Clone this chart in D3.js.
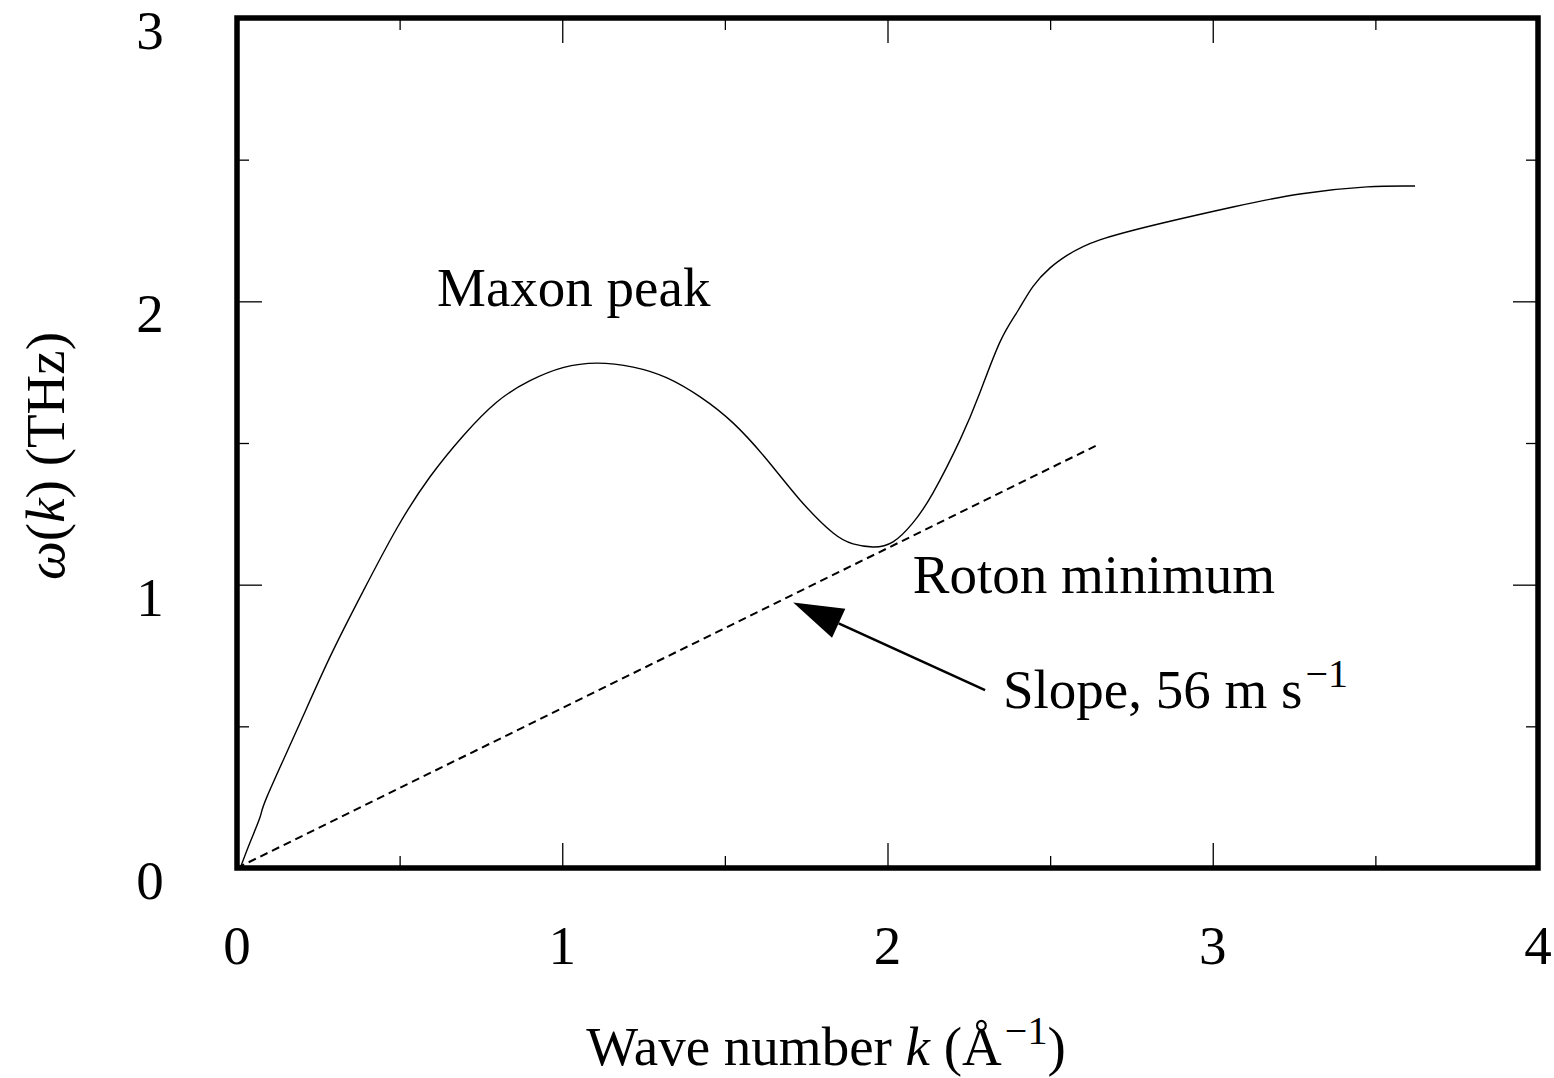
<!DOCTYPE html>
<html>
<head>
<meta charset="utf-8">
<script src="https://cdn.jsdelivr.net/npm/d3@7"></script>
<style>
  body { margin: 0; background: #fff; }
  text { font-family: "Liberation Serif", "Times New Roman", serif; fill: #000; }
</style>
</head>
<body>
<div id="chart"></div>
<script>
// Dispersion curve of superfluid helium
const kValues = [0.01, 0.04, 0.071, 0.092, 0.184, 0.286, 0.387, 0.492, 0.593, 0.695, 0.799, 0.901,
  1.002, 1.107, 1.218, 1.322, 1.424, 1.525, 1.630, 1.731, 1.832, 1.894, 1.955, 2.017, 2.078,
  2.140, 2.223, 2.284, 2.346, 2.400, 2.447, 2.500, 2.552, 2.653, 2.859, 3.062, 3.268, 3.474, 3.622];
const omegaValues = [0, 0.09, 0.18, 0.251, 0.487, 0.745, 0.975, 1.200, 1.380, 1.525, 1.645, 1.720,
  1.766, 1.782, 1.768, 1.730, 1.663, 1.571, 1.440, 1.299, 1.183, 1.144, 1.133, 1.151, 1.218,
  1.324, 1.511, 1.677, 1.857, 1.965, 2.052, 2.118, 2.162, 2.217, 2.280, 2.333, 2.379, 2.404, 2.407];

// dashed tangent line (slope 56 m/s)
const slopeK = [0, 2.64];
const slopeOmega = [0, 1.49];

const xTicks = [0, 1, 2, 3, 4];
const yTicks = [0, 1, 2, 3];
const xMinor = [0.5, 1.5, 2.5, 3.5];
const yMinor = [0.5, 1.5, 2.5];

const width = 1554;
const height = 1078;
const margin = {left: 237, right: 16, top: 18, bottom: 210};
const fontSize = 55;
const supSize = 40;

const svg = d3.select("#chart")
  .append("svg")
  .attr("width", width)
  .attr("height", height);

const x = d3.scaleLinear().domain([0, 4]).range([margin.left, width - margin.right]);
const y = d3.scaleLinear().domain([0, 3]).range([height - margin.bottom, margin.top]);

// ticks pointing inward on all four sides
function tickSet(values, len) {
  svg.append("g").call(d3.axisBottom(x).tickValues(values).tickSize(len).tickFormat(""))
    .attr("transform", `translate(0,${margin.top})`);
  svg.append("g").call(d3.axisTop(x).tickValues(values).tickSize(len).tickFormat(""))
    .attr("transform", `translate(0,${height - margin.bottom})`);
}
function tickSetY(values, len) {
  svg.append("g").call(d3.axisRight(y).tickValues(values).tickSize(len).tickFormat(""))
    .attr("transform", `translate(${margin.left},0)`);
  svg.append("g").call(d3.axisLeft(y).tickValues(values).tickSize(len).tickFormat(""))
    .attr("transform", `translate(${width - margin.right},0)`);
}
tickSet(xTicks, 25);
tickSet(xMinor, 12);
tickSetY(yTicks, 25);
tickSetY(yMinor, 12);
svg.selectAll(".domain").remove();
svg.selectAll(".tick line").attr("stroke", "#000").attr("stroke-width", 1.3);

// tick labels
svg.append("g").selectAll("text")
  .data(xTicks).enter().append("text")
  .attr("x", d => x(d))
  .attr("y", y(0) + 96)
  .attr("text-anchor", "middle")
  .attr("font-size", fontSize)
  .text(d => d);

svg.append("g").selectAll("text")
  .data(yTicks).enter().append("text")
  .attr("x", 150)
  .attr("y", d => y(d) + 31)
  .attr("text-anchor", "middle")
  .attr("font-size", fontSize)
  .text(d => d);

// dashed line
const line = d3.line().x(d => x(d[0])).y(d => y(d[1]));
svg.append("path")
  .attr("d", line(d3.zip(slopeK, slopeOmega)))
  .attr("fill", "none")
  .attr("stroke", "#000")
  .attr("stroke-width", 2)
  .attr("stroke-dasharray", "8,5");

// dispersion curve
const curve = d3.line().x(d => x(d[0])).y(d => y(d[1])).curve(d3.curveNatural);
svg.append("path")
  .attr("d", curve(d3.zip(kValues, omegaValues)))
  .attr("fill", "none")
  .attr("stroke", "#000")
  .attr("stroke-width", 1.4);

// frame
svg.append("rect")
  .attr("x", x(0)).attr("y", y(3))
  .attr("width", x(4) - x(0)).attr("height", y(0) - y(3))
  .attr("fill", "none")
  .attr("stroke", "#000")
  .attr("stroke-width", 5.5);

// arrow pointing at the dashed line
const arrowTail = [2.300, 0.628];
const arrowTip = [1.71, 0.937];
const tx = x(arrowTip[0]), ty = y(arrowTip[1]);
const ang = Math.atan2(y(arrowTail[1]) - ty, x(arrowTail[0]) - tx);
const headLen = 50, headHalf = 16;
const bx = tx + headLen * Math.cos(ang), by = ty + headLen * Math.sin(ang);
svg.append("line")
  .attr("x1", x(arrowTail[0])).attr("y1", y(arrowTail[1]))
  .attr("x2", bx).attr("y2", by)
  .attr("stroke", "#000").attr("stroke-width", 2.5);
svg.append("path")
  .attr("d", `M${tx},${ty} L${bx - headHalf * Math.sin(ang)},${by + headHalf * Math.cos(ang)} L${bx + headHalf * Math.sin(ang)},${by - headHalf * Math.cos(ang)} Z`)
  .attr("fill", "#000");

// annotations
svg.append("text")
  .attr("x", x(0.615)).attr("y", y(1.984))
  .attr("font-size", fontSize)
  .text("Maxon peak");

svg.append("text")
  .attr("x", x(2.078)).attr("y", y(0.971))
  .attr("font-size", fontSize)
  .text("Roton minimum");

const slopeText = svg.append("text")
  .attr("x", x(2.355)).attr("y", y(0.565))
  .attr("font-size", fontSize);
slopeText.append("tspan").text("Slope, 56 m s");
slopeText.append("tspan").attr("dx", 3).attr("dy", -21).attr("font-size", supSize).text("\u22121");

// axis titles
const xTitle = svg.append("text")
  .attr("x", 826).attr("y", 1065)
  .attr("text-anchor", "middle")
  .attr("font-size", fontSize);
xTitle.append("tspan").text("Wave number ");
xTitle.append("tspan").attr("font-style", "italic").text("k");
xTitle.append("tspan").text(" (\u00C5");
xTitle.append("tspan").attr("dx", 3).attr("dy", -21).attr("font-size", supSize).text("\u22121");
xTitle.append("tspan").attr("dy", 21).text(")");

const yTitle = svg.append("text")
  .attr("transform", "translate(64,456) rotate(-90)")
  .attr("text-anchor", "middle")
  .attr("font-size", fontSize);
yTitle.append("tspan").attr("font-style", "italic").text("\u03C9");
yTitle.append("tspan").text("(");
yTitle.append("tspan").attr("font-style", "italic").text("k");
yTitle.append("tspan").text(")  (THz)");
</script>
</body>
</html>
